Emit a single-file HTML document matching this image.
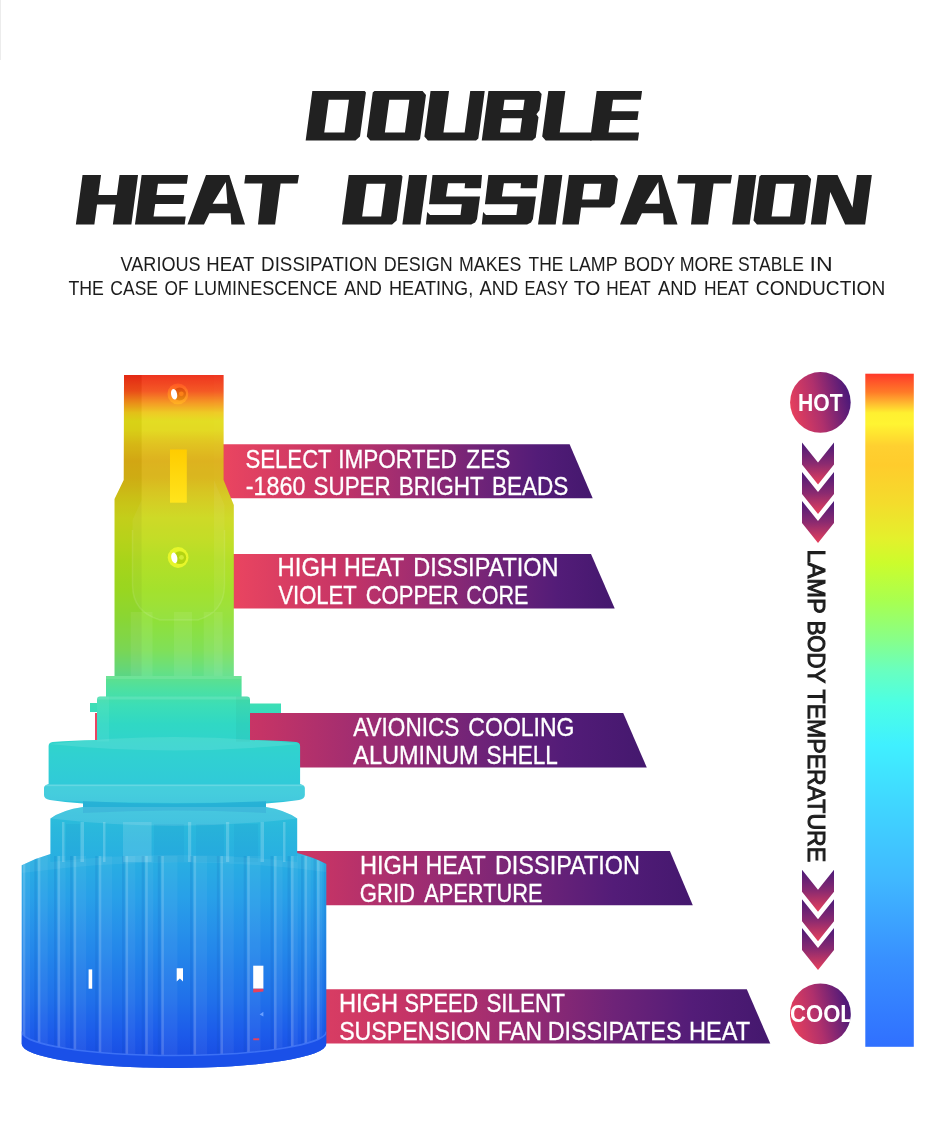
<!DOCTYPE html>
<html><head><meta charset="utf-8"><title>Double Heat Dissipation</title>
<style>
html,body{margin:0;padding:0;background:#fff;}
body{width:950px;height:1134px;overflow:hidden;font-family:"Liberation Sans",sans-serif;}
svg{display:block;font-family:"Liberation Sans",sans-serif;will-change:transform;}
</style></head><body>
<svg width="950" height="1134" viewBox="0 0 950 1134">

<defs>
<linearGradient id="gb" gradientUnits="userSpaceOnUse" x1="0" y1="375" x2="0" y2="1068"><stop offset="0.0000" stop-color="#ee2a14"/><stop offset="0.0231" stop-color="#f4501a"/><stop offset="0.0390" stop-color="#f5901a"/><stop offset="0.0543" stop-color="#eec81a"/><stop offset="0.0664" stop-color="#e2dc18"/><stop offset="0.0794" stop-color="#e2d818"/><stop offset="0.0996" stop-color="#e0c016"/><stop offset="0.1241" stop-color="#dcae14"/><stop offset="0.1486" stop-color="#d8b414"/><stop offset="0.1760" stop-color="#d4c818"/><stop offset="0.2063" stop-color="#ccd81c"/><stop offset="0.2367" stop-color="#c0dc1c"/><stop offset="0.2670" stop-color="#b0de1c"/><stop offset="0.3102" stop-color="#a0e022"/><stop offset="0.3535" stop-color="#90e038"/><stop offset="0.3968" stop-color="#80e058"/><stop offset="0.4257" stop-color="#68e080"/><stop offset="0.4545" stop-color="#4ce0a2"/><stop offset="0.4762" stop-color="#3cdeb6"/><stop offset="0.5036" stop-color="#30d8c4"/><stop offset="0.5541" stop-color="#30d0d2"/><stop offset="0.6032" stop-color="#30c8da"/><stop offset="0.6537" stop-color="#2ab8dc"/><stop offset="0.7027" stop-color="#28aee2"/><stop offset="0.7532" stop-color="#28a0e8"/><stop offset="0.8023" stop-color="#2690ea"/><stop offset="0.8528" stop-color="#2280ea"/><stop offset="0.9019" stop-color="#2070ea"/><stop offset="0.9524" stop-color="#1c5aea"/><stop offset="1.0000" stop-color="#1848e0"/></linearGradient>
<linearGradient id="gbar" gradientUnits="userSpaceOnUse" x1="0" y1="374" x2="0" y2="1046"><stop offset="0.0000" stop-color="#ff3a2a"/><stop offset="0.0268" stop-color="#ff7a28"/><stop offset="0.0432" stop-color="#ffb830"/><stop offset="0.0580" stop-color="#fff030"/><stop offset="0.0744" stop-color="#fff432"/><stop offset="0.0893" stop-color="#ffe430"/><stop offset="0.1071" stop-color="#ffd030"/><stop offset="0.1354" stop-color="#ffcc2c"/><stop offset="0.1920" stop-color="#f4dc2c"/><stop offset="0.2440" stop-color="#e4f02c"/><stop offset="0.2812" stop-color="#ccfc2c"/><stop offset="0.3378" stop-color="#a8ff50"/><stop offset="0.3943" stop-color="#88ff88"/><stop offset="0.4420" stop-color="#68ffc0"/><stop offset="0.4896" stop-color="#4cffe4"/><stop offset="0.5521" stop-color="#40f0ff"/><stop offset="0.6339" stop-color="#40d8ff"/><stop offset="0.7530" stop-color="#40b8ff"/><stop offset="0.8720" stop-color="#3890ff"/><stop offset="1.0000" stop-color="#3070ff"/></linearGradient>
<linearGradient id="gban" x1="0" y1="0" x2="1" y2="0">
<stop offset="0" stop-color="#ea4560"/><stop offset="0.3" stop-color="#c53466"/><stop offset="0.5" stop-color="#9c2c72"/><stop offset="0.7" stop-color="#6e2378"/><stop offset="0.85" stop-color="#531c78"/><stop offset="1" stop-color="#44186e"/>
</linearGradient>
<linearGradient id="gcirc" x1="0" y1="0.62" x2="1" y2="0.38">
<stop offset="0" stop-color="#e8405c"/><stop offset="0.45" stop-color="#b0306c"/><stop offset="1" stop-color="#47187a"/>
</linearGradient>
<linearGradient id="gchev" x1="0" y1="0" x2="0" y2="1">
<stop offset="0" stop-color="#4a1a78"/><stop offset="0.5" stop-color="#8a2a70"/><stop offset="1" stop-color="#e8405c"/>
</linearGradient>
<linearGradient id="gled" x1="0" y1="0" x2="0" y2="1"><stop offset="0" stop-color="#ffcc00"/><stop offset="1" stop-color="#ffe41c"/></linearGradient>
<linearGradient id="gs1" x1="0" y1="0" x2="0" y2="1"><stop offset="0" stop-color="#ff5624"/><stop offset="1" stop-color="#ffb422"/></linearGradient>
<linearGradient id="gs1i" x1="0" y1="0" x2="0" y2="1"><stop offset="0" stop-color="#e04810"/><stop offset="1" stop-color="#e48c10"/></linearGradient>
</defs>

<rect x="0" y="0" width="950" height="1134" fill="#ffffff"/>
<rect x="0" y="0" width="1" height="60" fill="#ececec"/>
<g fill="#212121" fill-rule="evenodd">
<path transform="matrix(1 0 -0.135 1 312.34 91.00)" d="M0.0 0.0 L52.3 0.0 L53.8 1.5 L53.8 45.5 L49.8 49.5 L0.0 49.5 ZM17.5 8.8 L17.5 41.5 L37.8 41.5 L37.8 8.8 Z"/>
<path transform="matrix(1 0 -0.135 1 372.94 91.00)" d="M1.5 0.0 L49.6 0.0 L53.6 4.0 L53.6 48.0 L52.1 49.5 L4.0 49.5 L0.0 45.5 L0.0 1.5 ZM17.5 8.8 L17.5 41.5 L37.6 41.5 L37.6 8.8 Z"/>
<path transform="matrix(1 0 -0.135 1 430.54 91.00)" d="M0.0 0.0 L18.5 0.0 L18.5 41.5 L39.7 41.5 L39.7 0.0 L54.2 0.0 L54.2 47.5 L52.2 49.5 L4.0 49.5 L0.0 45.5 Z"/>
<path transform="matrix(1 0 -0.135 1 488.44 91.00)" d="M0.0 0.0 L50.6 0.0 L53.6 3.0 L53.6 19.2 L51.1 23.2 L53.6 26.2 L53.6 46.5 L50.6 49.5 L0.0 49.5 ZM17.2 8.8 L17.2 19.1 L37.3 19.1 L37.3 8.8 ZM17.2 27.3 L17.2 41.5 L37.3 41.5 L37.3 27.3 Z"/>
<path transform="matrix(1 0 -0.135 1 548.34 91.00)" d="M0.0 0.0 L17.0 0.0 L17.0 41.5 L50.0 41.5 L50.0 49.5 L4.0 49.5 L0.0 45.5 Z"/>
<path transform="matrix(1 0 -0.135 1 596.64 91.00)" d="M0.0 0.0 L45.4 0.0 L45.4 8.8 L17.5 8.8 L17.5 20.2 L44.7 20.2 L44.7 29.0 L17.5 29.0 L17.5 41.5 L48.0 41.5 L48.0 49.5 L0.0 49.5 Z"/>
<path transform="matrix(1 0 -0.135 1 82.54 174.90)" d="M0.0 0.0 L18.5 0.0 L18.5 20.0 L37.0 20.0 L37.0 0.0 L55.5 0.0 L55.5 49.5 L37.0 49.5 L37.0 29.5 L18.5 29.5 L18.5 49.5 L0.0 49.5 Z"/>
<path transform="matrix(1 0 -0.135 1 141.64 174.90)" d="M0.0 0.0 L46.4 0.0 L46.4 8.8 L17.5 8.8 L17.5 20.2 L45.4 20.2 L45.4 29.0 L17.5 29.0 L17.5 41.5 L49.7 41.5 L49.7 49.5 L0.0 49.5 Z"/>
<path d="M187.5 224.4 L206.0 175.0 L229.3 175.0 L245.0 224.4 L231.3 224.4 L230.6 213.2 L209.4 213.2 L204.0 224.4 ZM225.8 182.0 L212.6 203.8 L227.4 203.8 Z"/>
<path d="M245.4 175.0 L299.0 175.0 L297.6 183.5 L280.6 183.5 L275.1 224.4 L258.0 224.4 L262.3 183.5 L244.3 183.5 Z"/>
<path transform="matrix(1 0 -0.135 1 348.74 174.90)" d="M0.0 0.0 L52.5 0.0 L54.0 1.5 L54.0 45.5 L50.0 49.5 L0.0 49.5 ZM19.0 8.8 L19.0 41.5 L38.0 41.5 L38.0 8.8 Z"/>
<path transform="matrix(1 0 -0.135 1 409.04 174.90)" d="M0.0 0.0 L18.0 0.0 L18.0 49.5 L0.0 49.5 Z"/>
<path d="M432.5 175.0 L482.0 175.0 L480.9 188.3 L464.6 188.3 L465.1 183.3 L448.0 183.3 L446.0 196.4 L480.0 196.4 L477.0 219.0 L475.1 222.6 L471.2 224.4 L425.9 224.4 L427.2 212.0 L430.1 215.0 L460.5 215.0 L461.8 204.3 L429.0 204.3 Z"/>
<path d="M488.4 175.0 L537.9 175.0 L536.8 188.3 L520.5 188.3 L521.0 183.3 L503.9 183.3 L501.9 196.4 L535.9 196.4 L532.9 219.0 L531.0 222.6 L527.1 224.4 L481.8 224.4 L483.1 212.0 L486.0 215.0 L516.4 215.0 L517.7 204.3 L484.9 204.3 Z"/>
<path transform="matrix(1 0 -0.135 1 544.74 174.90)" d="M0.0 0.0 L17.6 0.0 L17.6 49.5 L0.0 49.5 Z"/>
<path transform="matrix(1 0 -0.135 1 568.94 174.90)" d="M0.0 0.0 L45.5 0.0 L49.5 4.0 L49.5 28.5 L45.5 32.5 L16.5 32.5 L16.5 49.5 L0.0 49.5 ZM16.5 8.8 L16.5 24.7 L33.5 24.7 L33.5 8.8 Z"/>
<path d="M620.0 224.4 L638.5 175.0 L661.8 175.0 L677.5 224.4 L663.8 224.4 L663.1 213.2 L641.9 213.2 L636.5 224.4 ZM658.3 182.0 L645.1 203.8 L659.9 203.8 Z"/>
<path d="M678.4 175.0 L732.0 175.0 L730.6 183.5 L713.6 183.5 L708.1 224.4 L691.0 224.4 L695.3 183.5 L677.3 183.5 Z"/>
<path transform="matrix(1 0 -0.135 1 738.84 174.90)" d="M0.0 0.0 L17.4 0.0 L17.4 49.5 L0.0 49.5 Z"/>
<path transform="matrix(1 0 -0.135 1 759.64 174.90)" d="M1.5 0.0 L48.0 0.0 L52.0 4.0 L52.0 48.0 L50.5 49.5 L4.0 49.5 L0.0 45.5 L0.0 1.5 ZM17.5 8.8 L17.5 41.5 L36.0 41.5 L36.0 8.8 Z"/>
<path transform="matrix(1 0 -0.135 1 817.54 174.90)" d="M0.0 0.0 L20.0 0.0 L39.3 32.5 L39.3 0.0 L54.3 0.0 L54.3 49.5 L34.3 49.5 L15.0 17.0 L15.0 49.5 L0.0 49.5 Z"/>
</g>

<text x="120.60" y="270.5" font-size="19.9" fill="#1c1c1c" font-weight="normal" textLength="79.96" lengthAdjust="spacingAndGlyphs">VARIOUS</text><text x="206.32" y="270.5" font-size="19.9" fill="#1c1c1c" font-weight="normal" textLength="48.11" lengthAdjust="spacingAndGlyphs">HEAT</text><text x="261.10" y="270.5" font-size="19.9" fill="#1c1c1c" font-weight="normal" textLength="116.13" lengthAdjust="spacingAndGlyphs">DISSIPATION</text><text x="383.87" y="270.5" font-size="19.9" fill="#1c1c1c" font-weight="normal" textLength="68.75" lengthAdjust="spacingAndGlyphs">DESIGN</text><text x="459.08" y="270.5" font-size="19.9" fill="#1c1c1c" font-weight="normal" textLength="62.15" lengthAdjust="spacingAndGlyphs">MAKES</text><text x="528.55" y="270.5" font-size="19.9" fill="#1c1c1c" font-weight="normal" textLength="34.74" lengthAdjust="spacingAndGlyphs">THE</text><text x="568.97" y="270.5" font-size="19.9" fill="#1c1c1c" font-weight="normal" textLength="48.58" lengthAdjust="spacingAndGlyphs">LAMP</text><text x="623.85" y="270.5" font-size="19.9" fill="#1c1c1c" font-weight="normal" textLength="51.28" lengthAdjust="spacingAndGlyphs">BODY</text><text x="679.67" y="270.5" font-size="19.9" fill="#1c1c1c" font-weight="normal" textLength="53.65" lengthAdjust="spacingAndGlyphs">MORE</text><text x="737.91" y="270.5" font-size="19.9" fill="#1c1c1c" font-weight="normal" textLength="66.01" lengthAdjust="spacingAndGlyphs">STABLE</text><text x="809.52" y="270.5" font-size="19.9" fill="#1c1c1c" font-weight="normal" textLength="23.11" lengthAdjust="spacingAndGlyphs">IN</text><text x="68.45" y="294.5" font-size="19.9" fill="#1c1c1c" font-weight="normal" textLength="35.47" lengthAdjust="spacingAndGlyphs">THE</text><text x="110.32" y="294.5" font-size="19.9" fill="#1c1c1c" font-weight="normal" textLength="47.74" lengthAdjust="spacingAndGlyphs">CASE</text><text x="164.52" y="294.5" font-size="19.9" fill="#1c1c1c" font-weight="normal" textLength="24.06" lengthAdjust="spacingAndGlyphs">OF</text><text x="193.95" y="294.5" font-size="19.9" fill="#1c1c1c" font-weight="normal" textLength="143.59" lengthAdjust="spacingAndGlyphs">LUMINESCENCE</text><text x="344.20" y="294.5" font-size="19.9" fill="#1c1c1c" font-weight="normal" textLength="37.63" lengthAdjust="spacingAndGlyphs">AND</text><text x="389.05" y="294.5" font-size="19.9" fill="#1c1c1c" font-weight="normal" textLength="84.15" lengthAdjust="spacingAndGlyphs">HEATING,</text><text x="479.50" y="294.5" font-size="19.9" fill="#1c1c1c" font-weight="normal" textLength="38.75" lengthAdjust="spacingAndGlyphs">AND</text><text x="524.49" y="294.5" font-size="19.9" fill="#1c1c1c" font-weight="normal" textLength="43.79" lengthAdjust="spacingAndGlyphs">EASY</text><text x="573.81" y="294.5" font-size="19.9" fill="#1c1c1c" font-weight="normal" textLength="26.57" lengthAdjust="spacingAndGlyphs">TO</text><text x="606.22" y="294.5" font-size="19.9" fill="#1c1c1c" font-weight="normal" textLength="44.67" lengthAdjust="spacingAndGlyphs">HEAT</text><text x="657.90" y="294.5" font-size="19.9" fill="#1c1c1c" font-weight="normal" textLength="38.75" lengthAdjust="spacingAndGlyphs">AND</text><text x="703.91" y="294.5" font-size="19.9" fill="#1c1c1c" font-weight="normal" textLength="45.09" lengthAdjust="spacingAndGlyphs">HEAT</text><text x="755.85" y="294.5" font-size="19.9" fill="#1c1c1c" font-weight="normal" textLength="129.43" lengthAdjust="spacingAndGlyphs">CONDUCTION</text>
<path d="M223 444.2 L569.6 444.2 L592.7 498.2 L223 498.2 Z" fill="url(#gban)"/><path d="M232 554.1 L591 554.1 L614.7 608.6 L232 608.6 Z" fill="url(#gban)"/><path d="M95 713.1 L623.2 713.1 L646.8 767.5 L95 767.5 Z" fill="url(#gban)"/><path d="M165 851.1 L669.9 851.1 L692.8 905.3 L165 905.3 Z" fill="url(#gban)"/><path d="M250 989.3 L746.8 989.3 L770.3 1043.6 L250 1043.6 Z" fill="url(#gban)"/>
<clipPath id="cb"><path d="M124 375 H223.6 V480 L233.8 505 V676 H241.6 V696.5 H247 Q250 696.5 250 699.5 V703.4 H281 V713 H250 V740 Q275 740.5 296 742 Q300.1 742.5 300.1 746 V784 Q304.8 785 304.8 788 V795 Q304.8 799 299 800 Q282 802.5 266 803.5 V807 Q285 810 297.2 818.5 V853 Q313 857 326.3 864 V1044 A152.3 24 0 0 1 21.7 1044 V865.3 Q36 858 50.4 854 V818.5 Q62 810 83 807 V803.5 Q66 802.5 50 800 Q44 799 44 795 V788 Q44 785 48.6 784 V746 Q48.6 742.5 52.6 742 Q73 740.5 97 740 V712 H90 V703 H97 V699.5 Q97 696.5 100 696.5 H106 V676 H114.5 V499 L123.7 480 Z"/></clipPath>
<g clip-path="url(#cb)">
<rect x="0" y="370" width="340" height="710" fill="url(#gb)"/>
<path d="M124 375 H141.6 V676 H114.5 V499 L123.7 480 Z" fill="#000" opacity="0.045"/>
<path d="M214 375 H223.5 V480 L233.8 505 V676 H214 Z" fill="#fff" opacity="0.06"/>
<path d="M141.6 375 H214 V480 L224.5 505 V585 Q224.5 612 198 620 L160 620 Q132.5 612 132.5 585 V520 L141.6 500 Z" fill="#fff" opacity="0.05"/>
<path d="M132.5 530 V585 Q132.5 612 160 620 L198 620 Q224.5 612 224.5 585 V530" fill="none" stroke="#fff" stroke-opacity="0.10" stroke-width="1.5"/>
<rect x="130.7" y="612" width="21.8" height="64" fill="#fff" opacity="0.07"/>
<rect x="174" y="612" width="18.0" height="64" fill="#fff" opacity="0.07"/>
<rect x="203.7" y="612" width="18.9" height="64" fill="#fff" opacity="0.07"/>
<rect x="170" y="449.5" width="16.8" height="53.2" fill="url(#gled)"/>
<circle cx="177.9" cy="393.9" r="10.4" fill="url(#gs1)"/><circle cx="179.6" cy="394" r="6.4" fill="url(#gs1i)"/><ellipse cx="174.1" cy="394.3" rx="3.0" ry="5.4" fill="#fff" transform="rotate(-12 174.1 394.3)"/><circle cx="181.3" cy="393.8" r="2.4" fill="#ff8418" opacity="0.9"/>
<circle cx="178.1" cy="557.5" r="10.4" fill="#e6f62a"/><circle cx="179.8" cy="557.6" r="6.4" fill="#b4d412"/><ellipse cx="174.3" cy="557.9" rx="3.0" ry="5.4" fill="#fff" transform="rotate(-12 174.3 557.9)"/><circle cx="181.5" cy="557.4" r="2.4" fill="#d4ee3a" opacity="0.9"/>
<rect x="106" y="676" width="135.6" height="3" fill="#fff" opacity="0.10"/>
<rect x="97" y="696.5" width="153" height="3" fill="#fff" opacity="0.12"/>
<rect x="97" y="696.5" width="12" height="45" fill="#fff" opacity="0.06"/>
<rect x="236" y="696.5" width="14" height="45" fill="#000" opacity="0.03"/>
<path d="M48.6 744 Q175 730 299 744 Q175 757 48.6 744 Z" fill="#fff" opacity="0.10"/>
<path d="M44 786 H304.6 V800 Q175 806 44 800 Z" fill="#fff" opacity="0.10"/>
<rect x="44" y="784.5" width="260.6" height="1.6" fill="#fff" opacity="0.25"/>
<path d="M83 801 Q175 806 266 801 V813 Q175 808 83 813 Z" fill="#0060c0" opacity="0.16"/>
<path d="M50.4 818.5 Q62 810 83 807 H266 Q285 810 297.2 818.5 Q175 833 50.4 818.5 Z" fill="#fff" opacity="0.12"/>
<rect x="123" y="822" width="28.6" height="40" fill="#fff" opacity="0.13"/>
<rect x="62" y="822" width="2.5" height="40" fill="#fff" opacity="0.20"/>
<rect x="80.5" y="822" width="3.5" height="40" fill="#fff" opacity="0.20"/>
<rect x="103" y="822" width="2.5" height="40" fill="#fff" opacity="0.20"/>
<rect x="188" y="822" width="3.2" height="40" fill="#fff" opacity="0.20"/>
<rect x="226" y="822" width="3.2" height="40" fill="#fff" opacity="0.20"/>
<rect x="260.5" y="822" width="3.5" height="40" fill="#fff" opacity="0.20"/>
<rect x="283" y="822" width="2.5" height="40" fill="#fff" opacity="0.20"/>
<rect x="66" y="824" width="14" height="38" fill="#0050b0" opacity="0.05"/>
<rect x="154" y="824" width="30" height="38" fill="#0050b0" opacity="0.05"/>
<rect x="196" y="824" width="28" height="38" fill="#0050b0" opacity="0.05"/>
<rect x="234" y="824" width="24" height="38" fill="#0050b0" opacity="0.05"/>
<path d="M21.7 865 Q36 858 50.4 854 V862 Q175 848 297.2 862 V853 Q313 857 326.3 864 V872 Q175 852 21.7 873 Z" fill="#fff" opacity="0.06"/>
<rect x="22.7" y="856" width="7.5" height="215" fill="#fff" opacity="0.05"/>
<rect x="22.7" y="856" width="2.6" height="215" fill="#fff" opacity="0.16"/>
<rect x="34.3" y="856" width="2.5" height="215" fill="#0038a0" opacity="0.10"/>
<rect x="37.8" y="856" width="9.9" height="215" fill="#fff" opacity="0.05"/>
<rect x="37.8" y="856" width="2.6" height="215" fill="#fff" opacity="0.16"/>
<rect x="54.0" y="856" width="2.5" height="215" fill="#0038a0" opacity="0.10"/>
<rect x="57.5" y="856" width="8.0" height="215" fill="#fff" opacity="0.05"/>
<rect x="57.5" y="856" width="2.6" height="215" fill="#fff" opacity="0.16"/>
<rect x="70.1" y="856" width="2.5" height="215" fill="#0038a0" opacity="0.10"/>
<rect x="73.6" y="856" width="12.6" height="215" fill="#fff" opacity="0.05"/>
<rect x="73.6" y="856" width="2.6" height="215" fill="#fff" opacity="0.16"/>
<rect x="95.2" y="856" width="2.5" height="215" fill="#0038a0" opacity="0.10"/>
<rect x="98.7" y="856" width="13.4" height="215" fill="#fff" opacity="0.05"/>
<rect x="98.7" y="856" width="2.6" height="215" fill="#fff" opacity="0.16"/>
<rect x="122.0" y="856" width="2.5" height="215" fill="#0038a0" opacity="0.10"/>
<rect x="125.5" y="856" width="9.8" height="215" fill="#fff" opacity="0.05"/>
<rect x="125.5" y="856" width="2.6" height="215" fill="#fff" opacity="0.16"/>
<rect x="141.7" y="856" width="2.5" height="215" fill="#0038a0" opacity="0.10"/>
<rect x="145.2" y="856" width="8.1" height="215" fill="#fff" opacity="0.05"/>
<rect x="145.2" y="856" width="2.6" height="215" fill="#fff" opacity="0.16"/>
<rect x="157.8" y="856" width="2.5" height="215" fill="#0038a0" opacity="0.10"/>
<rect x="161.3" y="856" width="16.1" height="215" fill="#fff" opacity="0.05"/>
<rect x="161.3" y="856" width="2.6" height="215" fill="#fff" opacity="0.16"/>
<rect x="190.0" y="856" width="2.5" height="215" fill="#0038a0" opacity="0.10"/>
<rect x="193.5" y="856" width="13.5" height="215" fill="#fff" opacity="0.05"/>
<rect x="193.5" y="856" width="2.6" height="215" fill="#fff" opacity="0.16"/>
<rect x="216.9" y="856" width="2.5" height="215" fill="#0038a0" opacity="0.10"/>
<rect x="220.4" y="856" width="13.4" height="215" fill="#fff" opacity="0.05"/>
<rect x="220.4" y="856" width="2.6" height="215" fill="#fff" opacity="0.16"/>
<rect x="243.7" y="856" width="2.5" height="215" fill="#0038a0" opacity="0.10"/>
<rect x="247.2" y="856" width="13.4" height="215" fill="#fff" opacity="0.05"/>
<rect x="247.2" y="856" width="2.6" height="215" fill="#fff" opacity="0.16"/>
<rect x="270.5" y="856" width="2.5" height="215" fill="#0038a0" opacity="0.10"/>
<rect x="274.0" y="856" width="8.5" height="215" fill="#fff" opacity="0.05"/>
<rect x="274.0" y="856" width="2.6" height="215" fill="#fff" opacity="0.16"/>
<rect x="287.5" y="856" width="2.5" height="215" fill="#0038a0" opacity="0.10"/>
<rect x="291.0" y="856" width="6.8" height="215" fill="#fff" opacity="0.05"/>
<rect x="291.0" y="856" width="2.6" height="215" fill="#fff" opacity="0.16"/>
<rect x="301.0" y="856" width="2.5" height="215" fill="#0038a0" opacity="0.10"/>
<rect x="304.5" y="856" width="6.2" height="215" fill="#fff" opacity="0.05"/>
<rect x="304.5" y="856" width="2.6" height="215" fill="#fff" opacity="0.16"/>
<rect x="313.5" y="856" width="2.5" height="215" fill="#0038a0" opacity="0.10"/>
<rect x="317.0" y="856" width="5.2" height="215" fill="#fff" opacity="0.05"/>
<rect x="317.0" y="856" width="2.6" height="215" fill="#fff" opacity="0.16"/>
<rect x="323.8" y="856" width="2.5" height="215" fill="#0038a0" opacity="0.10"/>
<path d="M21.7 1031 A152.3 24 0 0 0 326.3 1031 V1075 H20 Z" fill="#1a50e8"/>
<path d="M21.7 1031.5 A152.3 24 0 0 0 326.3 1031.5" fill="none" stroke="#5a8cff" stroke-opacity="0.55" stroke-width="1.6"/>
<rect x="88.6" y="969.4" width="3.6" height="19.3" fill="#fff"/>
<path d="M176.7 968.2 H183 V981.5 L179.9 978.6 L176.7 981.5 Z" fill="#fff"/>
<rect x="253.2" y="965.7" width="10.2" height="23" fill="#fff"/>
<path d="M253.2 988.7 H263.4 V991.4 L253.2 992.6 Z" fill="#e8405c"/>
<rect x="253.2" y="1038.3" width="6" height="1.9" fill="#e8405c"/>
<path d="M259.6 1014.6 L263.4 1011.7 V1016.6 Z" fill="#6aa0ff"/>
</g>
<text x="245.50" y="467.9" font-size="25.2" fill="#fff" font-weight="normal" textLength="86.15" lengthAdjust="spacingAndGlyphs" stroke="#fff" stroke-width="0.3">SELECT</text><text x="338.27" y="467.9" font-size="25.2" fill="#fff" font-weight="normal" textLength="118.54" lengthAdjust="spacingAndGlyphs" stroke="#fff" stroke-width="0.3">IMPORTED</text><text x="466.32" y="467.9" font-size="25.2" fill="#fff" font-weight="normal" textLength="44.08" lengthAdjust="spacingAndGlyphs" stroke="#fff" stroke-width="0.3">ZES</text><text x="245.67" y="494.9" font-size="25.2" fill="#fff" font-weight="normal" textLength="59.71" lengthAdjust="spacingAndGlyphs" stroke="#fff" stroke-width="0.3">-1860</text><text x="313.59" y="494.9" font-size="25.2" fill="#fff" font-weight="normal" textLength="77.01" lengthAdjust="spacingAndGlyphs" stroke="#fff" stroke-width="0.3">SUPER</text><text x="398.70" y="494.9" font-size="25.2" fill="#fff" font-weight="normal" textLength="85.02" lengthAdjust="spacingAndGlyphs" stroke="#fff" stroke-width="0.3">BRIGHT</text><text x="491.90" y="494.9" font-size="25.2" fill="#fff" font-weight="normal" textLength="76.41" lengthAdjust="spacingAndGlyphs" stroke="#fff" stroke-width="0.3">BEADS</text><text x="277.60" y="575.8" font-size="25.2" fill="#fff" font-weight="normal" textLength="59.49" lengthAdjust="spacingAndGlyphs" stroke="#fff" stroke-width="0.3">HIGH</text><text x="343.94" y="575.8" font-size="25.2" fill="#fff" font-weight="normal" textLength="60.29" lengthAdjust="spacingAndGlyphs" stroke="#fff" stroke-width="0.3">HEAT</text><text x="413.32" y="575.8" font-size="25.2" fill="#fff" font-weight="normal" textLength="145.27" lengthAdjust="spacingAndGlyphs" stroke="#fff" stroke-width="0.3">DISSIPATION</text><text x="278.40" y="603.9" font-size="25.2" fill="#fff" font-weight="normal" textLength="78.38" lengthAdjust="spacingAndGlyphs" stroke="#fff" stroke-width="0.3">VIOLET</text><text x="365.70" y="603.9" font-size="25.2" fill="#fff" font-weight="normal" textLength="92.95" lengthAdjust="spacingAndGlyphs" stroke="#fff" stroke-width="0.3">COPPER</text><text x="466.33" y="603.9" font-size="25.2" fill="#fff" font-weight="normal" textLength="62.02" lengthAdjust="spacingAndGlyphs" stroke="#fff" stroke-width="0.3">CORE</text><text x="353.20" y="735.9" font-size="25.2" fill="#fff" font-weight="normal" textLength="106.09" lengthAdjust="spacingAndGlyphs" stroke="#fff" stroke-width="0.3">AVIONICS</text><text x="468.35" y="735.9" font-size="25.2" fill="#fff" font-weight="normal" textLength="106.20" lengthAdjust="spacingAndGlyphs" stroke="#fff" stroke-width="0.3">COOLING</text><text x="353.20" y="763.8" font-size="25.2" fill="#fff" font-weight="normal" textLength="125.45" lengthAdjust="spacingAndGlyphs" stroke="#fff" stroke-width="0.3">ALUMINUM</text><text x="486.38" y="763.8" font-size="25.2" fill="#fff" font-weight="normal" textLength="71.47" lengthAdjust="spacingAndGlyphs" stroke="#fff" stroke-width="0.3">SHELL</text><text x="359.91" y="873.9" font-size="25.2" fill="#fff" font-weight="normal" textLength="58.96" lengthAdjust="spacingAndGlyphs" stroke="#fff" stroke-width="0.3">HIGH</text><text x="425.54" y="873.9" font-size="25.2" fill="#fff" font-weight="normal" textLength="60.19" lengthAdjust="spacingAndGlyphs" stroke="#fff" stroke-width="0.3">HEAT</text><text x="494.92" y="873.9" font-size="25.2" fill="#fff" font-weight="normal" textLength="145.06" lengthAdjust="spacingAndGlyphs" stroke="#fff" stroke-width="0.3">DISSIPATION</text><text x="359.80" y="901.8" font-size="25.2" fill="#fff" font-weight="normal" textLength="55.20" lengthAdjust="spacingAndGlyphs" stroke="#fff" stroke-width="0.3">GRID</text><text x="424.20" y="901.8" font-size="25.2" fill="#fff" font-weight="normal" textLength="118.43" lengthAdjust="spacingAndGlyphs" stroke="#fff" stroke-width="0.3">APERTURE</text><text x="338.91" y="1011.8" font-size="25.2" fill="#fff" font-weight="normal" textLength="59.06" lengthAdjust="spacingAndGlyphs" stroke="#fff" stroke-width="0.3">HIGH</text><text x="404.52" y="1011.8" font-size="25.2" fill="#fff" font-weight="normal" textLength="73.66" lengthAdjust="spacingAndGlyphs" stroke="#fff" stroke-width="0.3">SPEED</text><text x="486.39" y="1011.8" font-size="25.2" fill="#fff" font-weight="normal" textLength="78.48" lengthAdjust="spacingAndGlyphs" stroke="#fff" stroke-width="0.3">SILENT</text><text x="339.16" y="1040.0" font-size="25.2" fill="#fff" font-weight="normal" textLength="151.93" lengthAdjust="spacingAndGlyphs" stroke="#fff" stroke-width="0.3">SUSPENSION</text><text x="497.67" y="1040.0" font-size="25.2" fill="#fff" font-weight="normal" textLength="44.44" lengthAdjust="spacingAndGlyphs" stroke="#fff" stroke-width="0.3">FAN</text><text x="547.64" y="1040.0" font-size="25.2" fill="#fff" font-weight="normal" textLength="133.85" lengthAdjust="spacingAndGlyphs" stroke="#fff" stroke-width="0.3">DISSIPATES</text><text x="689.12" y="1040.0" font-size="25.2" fill="#fff" font-weight="normal" textLength="60.92" lengthAdjust="spacingAndGlyphs" stroke="#fff" stroke-width="0.3">HEAT</text>

<rect x="865.3" y="373.7" width="48.5" height="673.1" fill="url(#gbar)"/>
<circle cx="820.4" cy="402.4" r="30.3" fill="url(#gcirc)"/>
<circle cx="820.4" cy="1013.9" r="30.4" fill="url(#gcirc)"/>
<text x="798.03" y="410.9" font-size="23.2" fill="#fff" font-weight="bold" textLength="44.60" lengthAdjust="spacingAndGlyphs">HOT</text>
<clipPath id="ccool"><circle cx="820.4" cy="1013.9" r="30.4"/></clipPath>
<g clip-path="url(#ccool)"><text x="790.02" y="1022.3" font-size="23.4" fill="#fff" font-weight="bold" textLength="63.81" lengthAdjust="spacingAndGlyphs">COOL</text></g>
<path d="M802 442.5 L818 462.5 L834 442.5 L834 464.5 L818 484.5 L802 464.5 Z" fill="url(#gchev)"/><path d="M802 472 L818 492 L834 472 L834 494 L818 514 L802 494 Z" fill="url(#gchev)"/><path d="M802 501 L818 521 L834 501 L834 523 L818 543 L802 523 Z" fill="url(#gchev)"/><path d="M802 869.7 L818 889.7 L834 869.7 L834 891.7 L818 911.7 L802 891.7 Z" fill="url(#gchev)"/><path d="M802 899.2 L818 919.2 L834 899.2 L834 921.2 L818 941.2 L802 921.2 Z" fill="url(#gchev)"/><path d="M802 928 L818 948 L834 928 L834 950 L818 970 L802 950 Z" fill="url(#gchev)"/>
<g transform="translate(808 0) rotate(90)"><text x="549.51" y="0" font-size="23.6" fill="#1d1d1d" font-weight="normal" textLength="64.24" lengthAdjust="spacingAndGlyphs" stroke="#1d1d1d" stroke-width="1.05">LAMP</text><text x="620.63" y="0" font-size="23.6" fill="#1d1d1d" font-weight="normal" textLength="62.60" lengthAdjust="spacingAndGlyphs" stroke="#1d1d1d" stroke-width="1.05">BODY</text><text x="689.54" y="0" font-size="23.6" fill="#1d1d1d" font-weight="normal" textLength="172.64" lengthAdjust="spacingAndGlyphs" stroke="#1d1d1d" stroke-width="1.05">TEMPERATURE</text></g>

</svg>
</body></html>
